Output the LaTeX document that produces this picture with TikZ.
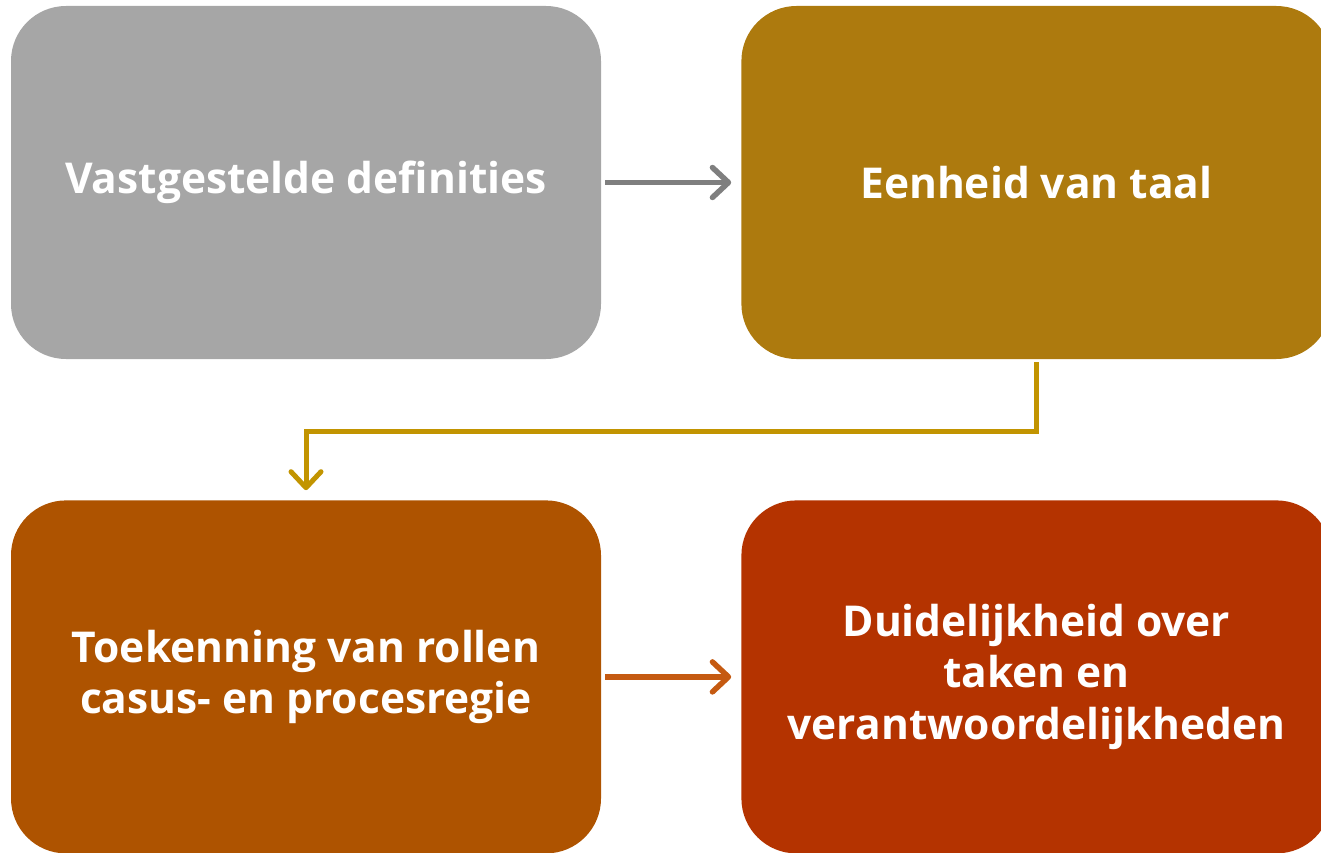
\documentclass[tikz,border=0pt]{standalone}
\usepackage{fontspec}
\setmainfont{Open Sans}
\usetikzlibrary{arrows.meta, positioning}

\definecolor{boxgray}{HTML}{A6A6A6}
\definecolor{boxgold}{HTML}{AD7A0E}
\definecolor{boxorange}{HTML}{AE5300}
\definecolor{boxred}{HTML}{B43300}
\definecolor{arrgray}{HTML}{7F7F7F}
\definecolor{arrgold}{HTML}{C29400}
\definecolor{arrorange}{HTML}{C55A11}

\begin{document}
\begin{tikzpicture}[
        node distance=140pt and 141pt,
        box/.style={rectangle, rounded corners=55pt, draw=none, text=white,
                    minimum width=590pt, minimum height=353pt, align=center,
                    font=\bfseries\fontsize{42.5}{51.5}\selectfont, inner sep=0pt},
        arr/.style={-{Straight Barb[length=16pt, width=30pt, round]},
                    line width=5.5pt, shorten <=4pt, shorten >=10pt},
    ]
    \useasboundingbox (0,0) rectangle (1321pt,-853pt);
    \clip (0,0) rectangle (1321pt,-853pt);
    \node[box, fill=boxgray] (def) at (306pt,-182.5pt) {Vastgestelde definities};
    \node[box, fill=boxgold, right=140pt of def] (taal) {Eenheid van taal};
    \node[box, fill=boxorange, below=141pt of def] (rol) {Toekenning van rollen \\ casus- en procesregie};
    \node[box, fill=boxred, right=140pt of rol] (taak) {Duidelijkheid over \\ taken en \\ verantwoordelijkheden};
    \draw[arr, arrgray] (def) -- (taal);
    \draw[arr, arrgold, line width=5pt, shorten <=3pt] (taal.south) -- ++(0,-72pt) -| (rol.north);
    \draw[arr, arrorange] (rol) -- (taak);
\end{tikzpicture}
\end{document}
